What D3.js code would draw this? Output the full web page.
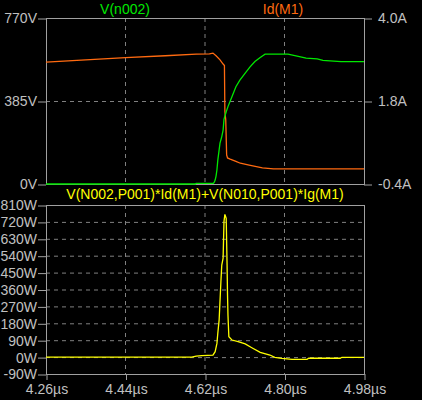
<!DOCTYPE html>
<html>
<head>
<meta charset="utf-8">
<script src="https://cdn.jsdelivr.net/npm/d3@7"></script>
<style>
  body { margin: 0; background: #fff; }
  svg { display: block; background: #000; }
  text { font-family: "Liberation Sans", Arial, sans-serif; font-size: 14px; }
</style>
</head>
<body>
<div id="chart"></div>
<script>
// time axis (µs)
const timeTicks = [4.26, 4.44, 4.62, 4.80, 4.98];
const voltTicks = [0, 385, 770];
const ampTicks = [-0.4, 1.8, 4.0];
const wattTicks = [-90, 0, 90, 180, 270, 360, 450, 540, 630, 720, 810];

// V(n002) [µs, V]
const vn002 = [
  [4.26, 0], [4.598, 0], [4.600, 3], [4.639, 3], [4.641, 8], [4.643, 18], [4.645, 37], [4.647, 65],
  [4.649, 111], [4.652, 158], [4.654, 190], [4.658, 220], [4.661, 250], [4.663, 300],
  [4.665, 315], [4.668, 335], [4.672, 359], [4.681, 405], [4.690, 451], [4.699, 482],
  [4.711, 514], [4.722, 543], [4.733, 568], [4.745, 587], [4.756, 602], [4.808, 602],
  [4.826, 594], [4.849, 584], [4.874, 580], [4.887, 573], [4.928, 568], [4.98, 568]
];

// Id(M1) [µs, A]
const idM1 = [
  [4.26, 2.83], [4.35, 2.89], [4.44, 2.95], [4.53, 3.00], [4.60, 3.04], [4.63, 3.05],
  [4.638, 3.07], [4.645, 3.00], [4.654, 2.89], [4.661, 2.78], [4.664, 2.74], [4.665, 1.52],
  [4.667, 1.30], [4.669, 0.37], [4.671, 0.29], [4.677, 0.26], [4.690, 0.20], [4.700, 0.15],
  [4.720, 0.10], [4.750, 0.03], [4.775, 0.0], [4.98, 0.0]
];

// V(N002,P001)*Id(M1)+V(N010,P001)*Ig(M1) [µs, W]
const power = [
  [4.26, 0], [4.59, 0], [4.600, 5], [4.613, 8], [4.638, 11], [4.643, 29], [4.647, 73],
  [4.649, 127], [4.652, 198], [4.656, 401], [4.658, 490], [4.661, 527], [4.663, 723],
  [4.665, 760], [4.668, 739], [4.670, 490], [4.671, 331], [4.672, 224], [4.674, 109],
  [4.681, 91], [4.695, 82], [4.711, 70], [4.726, 50], [4.745, 25], [4.767, 11],
  [4.778, -1], [4.794, -7], [4.817, -12], [4.851, -12], [4.855, -6], [4.926, -6],
  [4.930, -1], [4.98, -1]
];

const W = 422, H = 400;
const left = 46, right = 364;
const top1 = 18, bot1 = 184;
const top2 = 205, bot2 = 374;

const axisCol = '#a0a0a0', textCol = '#c0c0c0', gridCol = '#808080';

const svg = d3.select('#chart').append('svg')
  .attr('width', W)
  .attr('height', H);

const x = d3.scaleLinear().domain([4.26, 4.98]).range([left, right]);
const yV = d3.scaleLinear().domain([0, 770]).range([bot1, top1]);
const yA = d3.scaleLinear().domain([-0.4, 4.0]).range([bot1, top1]);
const yW = d3.scaleLinear().domain([-90, 810]).range([bot2, top2]);

// Grid lines
const drawGrid = (yScale, yTicks, y0, y1) => {
  const g = svg.append('g').attr('stroke', gridCol).attr('stroke-dasharray', '4,4');
  g.selectAll('line.vx')
    .data(timeTicks.slice(1, -1))
    .enter().append('line')
    .attr('x1', d => x(d)).attr('x2', d => x(d))
    .attr('y1', y0).attr('y2', y1);
  g.selectAll('line.hy')
    .data(yTicks.slice(1, -1))
    .enter().append('line')
    .attr('x1', left).attr('x2', right)
    .attr('y1', d => yScale(d) + 0.5).attr('y2', d => yScale(d) + 0.5);
};
drawGrid(yV, voltTicks, top1, bot1);
drawGrid(yW, wattTicks, top2, bot2);

// Frames
svg.append('rect').attr('x', left + 0.5).attr('y', top1 + 0.5)
  .attr('width', right - left).attr('height', bot1 - top1)
  .attr('fill', 'none').attr('stroke', axisCol);
svg.append('rect').attr('x', left + 0.5).attr('y', top2 + 0.5)
  .attr('width', right - left).attr('height', bot2 - top2)
  .attr('fill', 'none').attr('stroke', axisCol);

// Axes
const styleAxis = (g) => {
  g.select('.domain').remove();
  g.selectAll('.tick line').attr('stroke', axisCol);
  g.selectAll('.tick text').attr('fill', textCol)
    .style('font-family', '"Liberation Sans", Arial, sans-serif').style('font-size', '14px');
};

svg.append('g')
  .attr('transform', `translate(${left},0.5)`)
  .call(d3.axisLeft(yV).tickValues(voltTicks).tickSize(8).tickPadding(1).tickFormat(d => d + 'V'))
  .call(styleAxis);

svg.append('g')
  .attr('transform', `translate(${right},0.5)`)
  .call(d3.axisRight(yA).tickValues(ampTicks).tickSize(8).tickPadding(6).tickFormat(d => d.toFixed(1) + 'A'))
  .call(styleAxis);

svg.append('g')
  .attr('transform', `translate(${left},0.5)`)
  .call(d3.axisLeft(yW).tickValues(wattTicks).tickSize(8).tickPadding(1).tickFormat(d => d + 'W'))
  .call(styleAxis);

svg.append('g')
  .attr('transform', `translate(0.5,${bot2})`)
  .call(d3.axisBottom(x).tickValues(timeTicks).tickSize(6).tickPadding(4).tickFormat(d => d.toFixed(2) + 'µs'))
  .call(styleAxis);

// Traces
const lineV = d3.line().x(d => x(d[0])).y(d => yV(d[1]));
const lineA = d3.line().x(d => x(d[0])).y(d => yA(d[1]));
const lineW = d3.line().x(d => x(d[0])).y(d => yW(d[1]));

svg.append('path').datum(idM1).attr('d', lineA)
  .attr('fill', 'none').attr('stroke', '#ff6a10').attr('stroke-width', 1.3);
svg.append('path').datum(vn002).attr('d', lineV)
  .attr('fill', 'none').attr('stroke', '#00e800').attr('stroke-width', 1.3);
svg.append('path').datum(power).attr('d', lineW)
  .attr('fill', 'none').attr('stroke', '#ffff00').attr('stroke-width', 1.3);

// Titles
svg.append('text').attr('x', 125).attr('y', 14).attr('text-anchor', 'middle')
  .attr('fill', '#00e800').text('V(n002)');
svg.append('text').attr('x', 283).attr('y', 14).attr('text-anchor', 'middle')
  .attr('fill', '#ff6a10').text('Id(M1)');
svg.append('text').attr('x', 205).attr('y', 199).attr('text-anchor', 'middle')
  .attr('fill', '#ffff00').text('V(N002,P001)*Id(M1)+V(N010,P001)*Ig(M1)');
</script>
</body>
</html>
